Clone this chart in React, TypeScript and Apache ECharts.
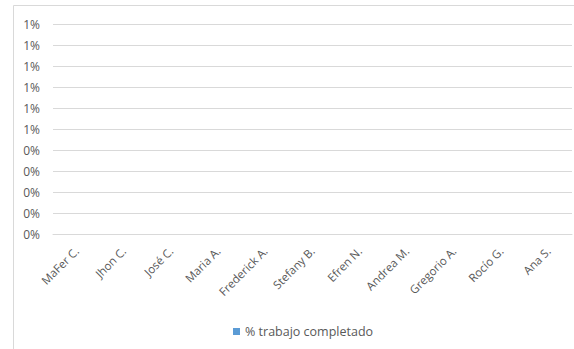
import React, { useEffect, useRef } from "react";
import * as echarts from "echarts";

const categories = [
  "MaFer C.",
  "Jhon C.",
  "José C.",
  "Maria A.",
  "Frederick A.",
  "Stefany B.",
  "Efren N.",
  "Andrea M.",
  "Gregorio A.",
  "Rocío G.",
  "Ana S.",
];
const seriesName = "% trabajo completado";
const completed = [0, 0, 0, 0, 0, 0, 0, 0, 0, 0, 0];
const yMin = 0;
const yMax = 0.01;
const yStep = 0.001;

const FONT = "Open Sans";
const TEXT = "#595959";
const LINE = "#d9d9d9";

export default function App() {
  const ref = useRef<HTMLDivElement>(null);
  useEffect(() => {
    if (!ref.current) return;
    const chart = echarts.init(ref.current, undefined, { renderer: "svg" });
    chart.setOption({
      animation: false,
      backgroundColor: "#ffffff",
      textStyle: { fontFamily: FONT },
      graphic: [
        {
          type: "rect",
          shape: { x: 13.5, y: 5.5, width: 700, height: 500 },
          style: { fill: "none", stroke: LINE, lineWidth: 1 },
          silent: true,
          z: -1,
        },
      ],
      grid: { left: 53, right: 2, top: 24, bottom: 115, containLabel: false },
      xAxis: {
        type: "category",
        data: categories,
        axisLine: { show: true, lineStyle: { color: LINE } },
        axisTick: { show: false },
        axisLabel: {
          rotate: 45,
          interval: 0,
          margin: 15,
          color: TEXT,
          fontSize: 11.5,
          fontFamily: FONT,
        },
      },
      yAxis: {
        type: "value",
        min: yMin,
        max: yMax,
        interval: yStep,
        axisLine: { show: false },
        axisTick: { show: false },
        splitLine: { show: true, lineStyle: { color: LINE, width: 1 } },
        axisLabel: {
          color: TEXT,
          fontSize: 12,
          fontFamily: FONT,
          margin: 13,
          formatter: (v: number) => Math.round(v * 100 + 1e-9) + "%",
        },
      },
      legend: {
        data: [seriesName],
        left: 228,
        top: 320,
        icon: "rect",
        itemWidth: 7,
        itemHeight: 7,
        itemGap: 3,
        textStyle: { color: TEXT, fontSize: 12.5, fontFamily: FONT },
      },
      series: [
        {
          name: seriesName,
          type: "bar",
          data: completed,
          itemStyle: { color: "#5B9BD5" },
          barCategoryGap: "50%",
        },
      ],
    });
    return () => chart.dispose();
  }, []);
  return (
    <div
      ref={ref}
      style={{ position: "fixed", left: 0, top: 0, width: 574, height: 349 }}
    />
  );
}
